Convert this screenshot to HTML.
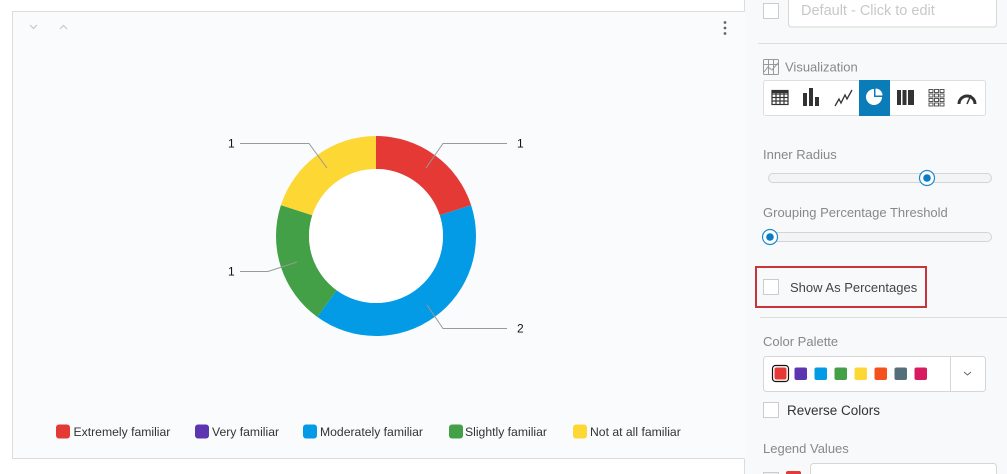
<!DOCTYPE html>
<html><head><meta charset="utf-8">
<style>
html,body{margin:0;padding:0;background:#fff;}
body{width:1007px;height:474px;overflow:hidden;font-family:"Liberation Sans",sans-serif;}
svg{display:block;}
text{font-family:"Liberation Sans",sans-serif;}
</style></head>
<body>
<svg width="1007" height="474" viewBox="0 0 1007 474" xmlns="http://www.w3.org/2000/svg">
  <!-- backgrounds -->
  <rect x="0" y="0" width="1007" height="474" fill="#ffffff"/>
  <rect x="12" y="11" width="733" height="448" fill="#fafbfc"/>
  <rect x="745" y="0" width="262" height="474" fill="#f8f9fa"/>
  <!-- card borders -->
  <g stroke="#dcdcdc" stroke-width="1" fill="none">
    <line x1="12" y1="11.5" x2="744.5" y2="11.5"/>
    <line x1="744.5" y1="0" x2="744.5" y2="11.5"/>
    <line x1="12.5" y1="11" x2="12.5" y2="459"/>
    <line x1="12" y1="458.5" x2="744.5" y2="458.5"/>
    <line x1="744.5" y1="458.5" x2="744.5" y2="474"/>
  </g>
  <!-- top chevrons -->
  <polyline points="30,25 33.5,28.5 37,25" fill="none" stroke="#c8c8c8" stroke-width="1.2"/>
  <polyline points="60,29 63.5,25.5 67,29" fill="none" stroke="#c8c8c8" stroke-width="1.2"/>
  <!-- kebab -->
  <g fill="#666">
    <circle cx="725" cy="22.5" r="1.4"/>
    <circle cx="725" cy="28" r="1.4"/>
    <circle cx="725" cy="33.5" r="1.4"/>
  </g>

  <!-- donut -->
  <path d="M376,136 A100,100 0 0 1 471.11,205.10 L439.72,215.30 A67,67 0 0 0 376,169 Z" fill="#e53935"/>
  <path d="M471.11,205.10 A100,100 0 0 1 317.22,316.90 L336.62,290.20 A67,67 0 0 0 439.72,215.30 Z" fill="#039be5"/>
  <path d="M317.22,316.90 A100,100 0 0 1 280.89,205.10 L312.28,215.30 A67,67 0 0 0 336.62,290.20 Z" fill="#43a047"/>
  <path d="M280.89,205.10 A100,100 0 0 1 376,136 L376,169 A67,67 0 0 0 312.28,215.30 Z" fill="#fdd835"/>
  <circle cx="376" cy="236" r="67" fill="#ffffff"/>

  <!-- leader lines -->
  <g fill="none" stroke="#999" stroke-width="1">
    <polyline points="426,168 443,143.5 507,143.5"/>
    <polyline points="427,305 443,328.5 507,328.5"/>
    <polyline points="297,262 268,271.5 240,271.5"/>
    <polyline points="327,168 309,143.5 240,143.5"/>
  </g>
  <g font-size="12" fill="#111">
    <text x="517" y="147.5">1</text>
    <text x="517" y="332.5">2</text>
    <text x="228" y="275.5">1</text>
    <text x="228" y="147.5">1</text>
  </g>

  <!-- legend -->
  <g>
    <rect x="56" y="424.5" width="14" height="14" rx="3" fill="#e53935"/>
    <text x="73.5" y="436" font-size="12.2" fill="#333">Extremely familiar</text>
    <rect x="195" y="424.5" width="14" height="14" rx="3" fill="#5e35b1"/>
    <text x="212" y="436" font-size="12.2" fill="#333">Very familiar</text>
    <rect x="303" y="424.5" width="14" height="14" rx="3" fill="#039be5"/>
    <text x="320" y="436" font-size="12.2" fill="#333">Moderately familiar</text>
    <rect x="449" y="424.5" width="14" height="14" rx="3" fill="#43a047"/>
    <text x="465" y="436" font-size="12.2" fill="#333">Slightly familiar</text>
    <rect x="573" y="424.5" width="14" height="14" rx="3" fill="#fdd835"/>
    <text x="590" y="436" font-size="12.2" fill="#333">Not at all familiar</text>
  </g>

  <!-- RIGHT PANEL -->
  <!-- top checkbox and input -->
  <rect x="763.5" y="3.5" width="15" height="15" fill="#fff" stroke="#ccc"/>
  <rect x="788.5" y="-6" width="208" height="33" rx="3" fill="#fff" stroke="#d6d6d6"/>
  <text x="801" y="15" font-size="14.5" fill="#c8c8c8">Default - Click to edit</text>
  <line x1="758" y1="43.5" x2="1007" y2="43.5" stroke="#dedede"/>

  <!-- Visualization -->
  <g fill="none" stroke="#999" stroke-width="1">
    <rect x="763.5" y="59.5" width="15" height="15" rx="1"/>
    <polyline points="764,72 768,67 772,70 778,63"/>
    <line x1="768.5" y1="60" x2="768.5" y2="74"/>
    <line x1="773.5" y1="60" x2="773.5" y2="74"/>
    <line x1="764" y1="64.5" x2="778" y2="64.5"/>
  </g>
  <text x="785" y="71.5" font-size="13" fill="#888">Visualization</text>

  <rect x="763.5" y="80.5" width="222" height="35" rx="2" fill="#fff" stroke="#dedede"/>
  <rect x="859" y="80" width="31" height="36" fill="#0a7cb8"/>
  <!-- table icon -->
  <g fill="none" stroke="#333" stroke-width="1.2">
    <rect x="772" y="90.5" width="16" height="14"/>
    <line x1="772" y1="94" x2="788" y2="94"/>
    <line x1="772" y1="97.5" x2="788" y2="97.5"/>
    <line x1="772" y1="101" x2="788" y2="101"/>
    <line x1="776" y1="90.5" x2="776" y2="104.5"/>
    <line x1="780" y1="90.5" x2="780" y2="104.5"/>
    <line x1="784" y1="90.5" x2="784" y2="104.5"/>
  </g>
  <rect x="772" y="90" width="16" height="3" fill="#333"/>
  <!-- bar icon -->
  <g fill="#333">
    <rect x="803" y="93" width="4" height="13"/>
    <rect x="809" y="88" width="4" height="18"/>
    <rect x="815" y="97" width="4" height="9"/>
  </g>
  <!-- line icon -->
  <polyline points="835,106 839,99 841,103 845,95 847,99 852,90" fill="none" stroke="#333" stroke-width="1.3"/>
  <!-- pie icon (white) -->
  <path d="M874,97 L874,89 A8,8 0 1 0 882,97 Z" fill="#fff"/>
  <path d="M875.5,95.5 L875.5,88.5 A7,7 0 0 1 882.5,95.5 Z" fill="#fff"/>
  <!-- split bars -->
  <g fill="#333">
    <rect x="897" y="90" width="4" height="15"/>
    <rect x="902.5" y="90" width="4" height="15"/>
    <rect x="908" y="90" width="6" height="15"/>
  </g>
  <!-- grid icon -->
  <g fill="none" stroke="#444" stroke-width="0.9">
    <rect x="929" y="89.5" width="4" height="3"/><rect x="934.5" y="89.5" width="4" height="3"/><rect x="940" y="89.5" width="4" height="3"/>
    <rect x="929" y="94" width="4" height="3"/><rect x="934.5" y="94" width="4" height="3"/><rect x="940" y="94" width="4" height="3"/>
    <rect x="929" y="98.5" width="4" height="3"/><rect x="934.5" y="98.5" width="4" height="3"/><rect x="940" y="98.5" width="4" height="3"/>
    <rect x="929" y="103" width="4" height="3"/><rect x="934.5" y="103" width="4" height="3"/><rect x="940" y="103" width="4" height="3"/>
  </g>
  <!-- gauge icon -->
  <path d="M959,104 A8,8 0 0 1 975,104" fill="none" stroke="#333" stroke-width="3"/>
  <line x1="967" y1="104" x2="971" y2="95" stroke="#333" stroke-width="1.5"/>

  <!-- Inner Radius -->
  <text x="763" y="159" font-size="13" fill="#888">Inner Radius</text>
  <rect x="768.5" y="173.5" width="223" height="9" rx="4.5" fill="#f3f4f5" stroke="#d4d4d4"/>
  <circle cx="927" cy="178" r="7.5" fill="#fff" stroke="#1a8ad0" stroke-width="1.2"/>
  <circle cx="927" cy="178" r="3.8" fill="#0a7cc4"/>

  <!-- Grouping -->
  <text x="763" y="217" font-size="13" fill="#888">Grouping Percentage Threshold</text>
  <rect x="768.5" y="232.5" width="223" height="9" rx="4.5" fill="#f3f4f5" stroke="#d4d4d4"/>
  <circle cx="770" cy="237" r="7.5" fill="#fff" stroke="#1a8ad0" stroke-width="1.2"/>
  <circle cx="770" cy="237" r="3.8" fill="#0a7cc4"/>

  <!-- Show As Percentages box -->
  <rect x="756" y="267" width="170" height="40" fill="none" stroke="#c9353a" stroke-width="2"/>
  <rect x="763.5" y="279.5" width="15" height="15" fill="#fff" stroke="#ccc"/>
  <text x="790" y="292" font-size="13" fill="#444">Show As Percentages</text>

  <line x1="760" y1="317.5" x2="1007" y2="317.5" stroke="#dedede"/>

  <!-- Color palette -->
  <text x="763" y="346" font-size="13" fill="#888">Color Palette</text>
  <rect x="763.5" y="356.5" width="222" height="35" rx="3" fill="#fff" stroke="#d6d6d6"/>
  <line x1="950.5" y1="357" x2="950.5" y2="391" stroke="#d6d6d6"/>
  <polyline points="964,372 967.5,375 971,372" fill="none" stroke="#666" stroke-width="1"/>
  <rect x="772.5" y="365.5" width="16" height="16" rx="3" fill="none" stroke="#111" stroke-width="1.2"/>
  <rect x="774.5" y="367.5" width="12" height="12" rx="2" fill="#e53935"/>
  <rect x="794.5" y="367.5" width="12.5" height="12.5" rx="2" fill="#5e35b1"/>
  <rect x="814.5" y="367.5" width="12.5" height="12.5" rx="2" fill="#039be5"/>
  <rect x="834.5" y="367.5" width="12.5" height="12.5" rx="2" fill="#43a047"/>
  <rect x="854.5" y="367.5" width="12.5" height="12.5" rx="2" fill="#fdd835"/>
  <rect x="874.5" y="367.5" width="12.5" height="12.5" rx="2" fill="#f4511e"/>
  <rect x="894.5" y="367.5" width="12.5" height="12.5" rx="2" fill="#546e7a"/>
  <rect x="914.5" y="367.5" width="12.5" height="12.5" rx="2" fill="#d81b60"/>

  <!-- Reverse colors -->
  <rect x="763.5" y="402.5" width="15" height="15" fill="#fff" stroke="#ccc"/>
  <text x="787" y="415" font-size="13.5" fill="#333">Reverse Colors</text>

  <!-- Legend Values -->
  <text x="763" y="453" font-size="13" fill="#888">Legend Values</text>
  <rect x="763.5" y="472.5" width="15" height="8" fill="#eee" stroke="#ccc"/>
  <rect x="786" y="471" width="15" height="8" rx="2" fill="#e53935"/>
  <rect x="810.5" y="463.5" width="186" height="20" rx="3" fill="#fff" stroke="#d6d6d6"/>
</svg>
</body></html>
